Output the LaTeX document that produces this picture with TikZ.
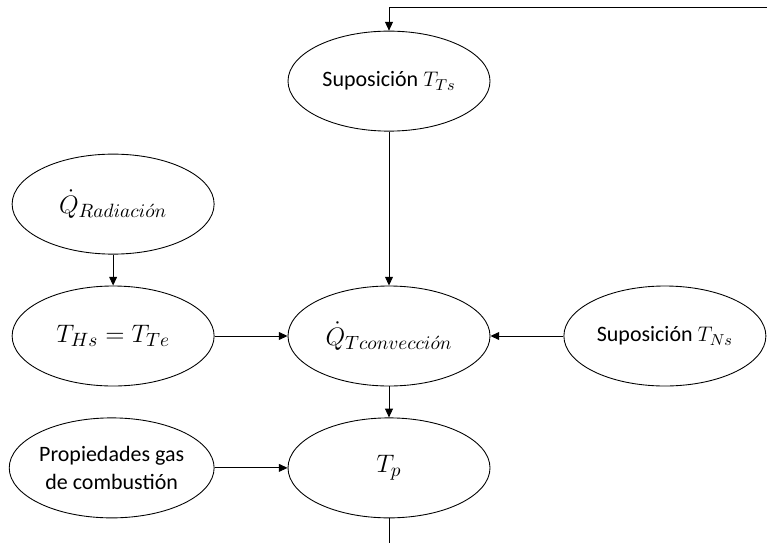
\documentclass[tikz,border=0pt]{standalone}
\usepackage{amsmath}
\usepackage{amssymb}
\usepackage[no-math]{fontspec}
\setmainfont{Carlito}
\usepackage{tikz}
\usetikzlibrary{shapes.geometric, positioning, arrows.meta}

\begin{document}
\begin{tikzpicture}[>={Stealth[inset=0pt,length=5pt,width=4.5pt]},
                line width=0.5pt, node distance=0.62cm and 1.46cm,
                elli/.style={draw, ellipse, minimum width=4.04cm, minimum height=2cm,
                    inner sep=0pt, align=center, font=\fontsize{12.5}{15.5}\selectfont},
                mathelli/.style={elli, font=\fontsize{15}{18}\selectfont}]

                \useasboundingbox (0,0) rectangle (15.34,-10.86);

                \node[mathelli] (qconv) at (7.78,-6.72) {$\dot{Q}_{Tconvecci\acute{o}n}$};
                \node[elli] (tts) [above=3.08cm of qconv] {Suposición $T_{Ts}$};
                \node[mathelli] (ths) [left=of qconv] {$T_{Hs}=T_{Te}$};
                \node[mathelli] (qrad) [above=of ths] {$\dot{Q}_{Radiaci\acute{o}n}$};
                \node[elli] (tns) [right=of qconv] {Suposición $T_{Ns}$};
                \node[mathelli] (tp) [below=of qconv] {$T_p$};
                \node[elli] (prop) [left=of tp] {Propiedades gas\\de combustión};

                \coordinate (back) at (15.34,-0.14);
                \coordinate (out) at (7.78,-10.86);

                \draw[->] (back) -| (tts);
                \draw[->] (tts) -- (qconv);
                \draw[->] (qrad) -- (ths);
                \draw[->] (ths) -- (qconv);
                \draw[->] (tns) -- (qconv);
                \draw[->] (qconv) -- (tp);
                \draw[->] (prop) -- (tp);
                \draw (tp) -- (out);

\end{tikzpicture}
\end{document}
